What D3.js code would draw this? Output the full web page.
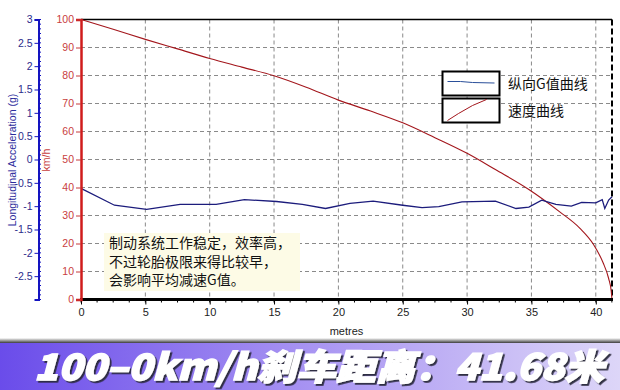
<!DOCTYPE html>
<html>
<head>
<meta charset="utf-8">
<script src="https://cdn.jsdelivr.net/npm/d3@7"></script>
<style>
  body { margin: 0; background: #fff; }
  svg { display: block; }
</style>
</head>
<body>
<svg id="chart" width="620" height="390"></svg>
<script>
// speed curve (km/h) vs distance (m)
var speedDist = [0, 2.5, 5, 7.5, 10, 12.5, 15, 17.5, 20, 22.5, 25, 27.5, 30, 32.2, 34.8, 37.2, 38.75, 39.8, 40.56, 41.0, 41.2, 41.26];
var speedKmh  = [100, 96.5, 92.9, 89.5, 86.1, 83.0, 79.9, 75.8, 71.2, 67.3, 63.1, 57.8, 52.2, 46.4, 39.3, 31.3, 25.5, 19.8, 13.2, 7.5, 3.0, 0];

// longitudinal acceleration (g) vs distance (m)
var accDist = [0, 2.6, 5.1, 7.7, 10.5, 12.7, 15.2, 17.2, 19.0, 20.9, 22.7, 25.0, 26.5, 27.8, 29.6, 32.2, 33.8, 34.8, 35.8, 36.9, 38.1, 38.9, 40.0, 40.5, 40.7, 41.0, 41.26];
var accG    = [-0.62, -0.98, -1.07, -0.96, -0.96, -0.86, -0.90, -0.96, -1.05, -0.94, -0.89, -0.98, -1.03, -1.01, -0.91, -0.89, -1.05, -1.02, -0.87, -0.96, -1.00, -0.92, -0.93, -0.86, -1.05, -0.87, -0.80];

var xTicks = [0, 5, 10, 15, 20, 25, 30, 35, 40];
var speedTicks = [0, 10, 20, 30, 40, 50, 60, 70, 80, 90, 100];
var gTicks = [3, 2.5, 2, 1.5, 1, 0.5, 0, -0.5, -1, -1.5, -2, -2.5];

var legendLabels = ['纵向G值曲线', '速度曲线'];
var noteLines = ['制动系统工作稳定，效率高，', '不过轮胎极限来得比较早，', '会影响平均减速G值。'];
var bannerText = '100–0km/h刹车距离：41.68米';

var svg = d3.select('#chart');
var plotL = 81, plotR = 612, plotT = 19.5, plotB = 299.5;

var x = d3.scaleLinear().domain([0, 41.26]).range([plotL, plotR]);
var ySpeed = d3.scaleLinear().domain([0, 100]).range([plotB, plotT]);
var yG = d3.scaleLinear().domain([-3, 3]).range([plotB, plotT]);

// grid
var grid = svg.append('g').attr('class', 'grid');
grid.selectAll('line.h')
    .data(speedTicks.filter(function(d){ return d > 0 && d < 100; }))
    .enter().append('line')
    .attr('x1', plotL).attr('x2', plotR)
    .attr('y1', function(d){ return ySpeed(d); })
    .attr('y2', function(d){ return ySpeed(d); })
    .attr('stroke', '#8a8a8a').attr('stroke-dasharray', '4,3');
grid.selectAll('line.v')
    .data(xTicks.filter(function(d){ return d > 0; }))
    .enter().append('line')
    .attr('x1', function(d){ return x(d); })
    .attr('x2', function(d){ return x(d); })
    .attr('y1', plotT).attr('y2', plotB)
    .attr('stroke', '#8a8a8a').attr('stroke-dasharray', '4,3');

// frame
svg.append('line').attr('x1', plotL).attr('x2', plotR).attr('y1', plotT).attr('y2', plotT)
    .attr('stroke', '#000').attr('stroke-width', 1.5);
svg.append('line').attr('x1', plotR).attr('x2', plotR).attr('y1', plotT).attr('y2', plotB)
    .attr('stroke', '#000').attr('stroke-width', 2).attr('stroke-dasharray', '6,3');

// note text with cream background
var note = svg.append('g');
note.append('rect').attr('x', 104).attr('y', 233).attr('width', 196).attr('height', 58)
    .attr('fill', '#fdfbe6');
note.selectAll('text').data(noteLines).enter().append('text')
    .attr('x', 109).attr('y', function(d, i){ return 248 + i * 18.7; })
    .attr('font-family', '"Noto Sans CJK SC", sans-serif')
    .attr('font-size', 14).attr('fill', '#111')
    .text(function(d){ return d; });

// curves
var speedLine = d3.line()
    .x(function(d){ return x(d[0]); })
    .y(function(d){ return ySpeed(d[1]); })
    .curve(d3.curveMonotoneX);
svg.append('path')
    .datum(d3.zip(speedDist, speedKmh))
    .attr('d', speedLine)
    .attr('fill', 'none').attr('stroke', '#a3161c').attr('stroke-width', 1.1);

var accLine = d3.line()
    .x(function(d){ return x(d[0]); })
    .y(function(d){ return yG(d[1]); });
svg.append('path')
    .datum(d3.zip(accDist, accG))
    .attr('d', accLine)
    .attr('fill', 'none').attr('stroke', '#1c1c7c').attr('stroke-width', 1.3);

// x axis
var xAxis = svg.append('g').attr('transform', 'translate(0,' + plotB + ')')
    .call(d3.axisBottom(x).tickValues(xTicks).tickSize(5).tickPadding(4).tickFormat(function(d){ return d; }));
xAxis.select('.domain').remove();
xAxis.selectAll('text').attr('font-family', '"Liberation Sans", Arial, sans-serif').attr('font-size', 11).attr('fill', '#222');
svg.append('g').selectAll('line')
    .data(d3.range(0, 41.26, 1.25))
    .enter().append('line')
    .attr('x1', function(d){ return x(d); }).attr('x2', function(d){ return x(d); })
    .attr('y1', plotB).attr('y2', plotB + 3)
    .attr('stroke', '#000');
svg.append('line').attr('x1', plotL - 1).attr('x2', plotR + 1).attr('y1', plotB).attr('y2', plotB)
    .attr('stroke', '#000').attr('stroke-width', 3);
svg.append('text').attr('x', (plotL + plotR) / 2).attr('y', 335)
    .attr('text-anchor', 'middle')
    .attr('font-family', '"Liberation Sans", Arial, sans-serif').attr('font-size', 11).attr('fill', '#222')
    .text('metres');

// speed axis (red)
var sAxis = svg.append('g').attr('transform', 'translate(' + plotL + ',0)')
    .call(d3.axisLeft(ySpeed).tickValues(speedTicks).tickSize(5).tickPadding(2).tickFormat(function(d){ return d; }));
sAxis.select('.domain').attr('stroke', '#d01c1c').attr('stroke-width', 2.5);
sAxis.selectAll('.tick line').attr('stroke', '#c83a3a');
sAxis.selectAll('text').attr('font-family', '"Liberation Sans", Arial, sans-serif').attr('font-size', 10.5).attr('fill', '#c84040');
svg.append('text')
    .attr('transform', 'translate(50,160) rotate(-90)')
    .attr('text-anchor', 'middle')
    .attr('font-family', '"Liberation Sans", Arial, sans-serif').attr('font-size', 10.5).attr('fill', '#c84040')
    .text('km/h');

// acceleration axis (blue)
var gX = 38.5;
var gAxis = svg.append('g').attr('transform', 'translate(' + gX + ',0)')
    .call(d3.axisLeft(yG).tickValues(gTicks).tickSize(4).tickPadding(2).tickFormat(function(d){ return String(d); }));
gAxis.select('.domain').attr('stroke', '#1414c0').attr('stroke-width', 2);
gAxis.selectAll('.tick line').attr('stroke', '#1414c0');
gAxis.selectAll('text').attr('font-family', '"Liberation Sans", Arial, sans-serif').attr('font-size', 10.5).attr('fill', '#2c2c8c');
svg.append('g').selectAll('line')
    .data(d3.range(-3, 3.001, 0.1))
    .enter().append('line')
    .attr('x1', gX).attr('x2', gX + 2.5)
    .attr('y1', function(d){ return yG(d); }).attr('y2', function(d){ return yG(d); })
    .attr('stroke', '#1414c0');
svg.append('text')
    .attr('transform', 'translate(16,160) rotate(-90)')
    .attr('text-anchor', 'middle')
    .attr('font-family', '"Liberation Sans", Arial, sans-serif').attr('font-size', 10.5).attr('fill', '#2c2c9c')
    .text('Longitudinal Acceleration (g)');

// legend
var legend = svg.append('g');
var boxX = 442.5, boxW = 57, boxH = 24;
var boxY = [71.5, 98.5];
legend.selectAll('rect').data(boxY).enter().append('rect')
    .attr('x', boxX).attr('y', function(d){ return d; })
    .attr('width', boxW).attr('height', boxH)
    .attr('fill', '#fff').attr('stroke', '#000').attr('stroke-width', 2);
legend.append('path')
    .attr('d', d3.line()([[boxX + 5, boxY[0] + 10], [boxX + 18, boxY[0] + 10], [boxX + 30, boxY[0] + 11], [boxX + 52, boxY[0] + 11.5]]))
    .attr('fill', 'none').attr('stroke', '#2a4f9a').attr('stroke-width', 1);
legend.append('path')
    .attr('d', d3.line()([[boxX + 5, boxY[1] + 22], [boxX + 16, boxY[1] + 15], [boxX + 30, boxY[1] + 7], [boxX + 44, boxY[1] + 1]]))
    .attr('fill', 'none').attr('stroke', '#a3161c').attr('stroke-width', 1);
legend.selectAll('text').data(legendLabels).enter().append('text')
    .attr('x', 508).attr('y', function(d, i){ return boxY[i] + 17; })
    .attr('font-family', '"Noto Sans CJK SC", sans-serif')
    .attr('font-size', 14).attr('fill', '#111')
    .text(function(d){ return d; });

// banner
var defs = svg.append('defs');
var bg = defs.append('linearGradient').attr('id', 'bannerGrad').attr('x1', '0').attr('x2', '1').attr('y1', '0').attr('y2', '0');
bg.append('stop').attr('offset', '0').attr('stop-color', '#6a4cea');
bg.append('stop').attr('offset', '0.5').attr('stop-color', '#a894f2');
bg.append('stop').attr('offset', '1').attr('stop-color', '#ddd6f8');
var sg = defs.append('linearGradient').attr('id', 'shadowGrad').attr('x1', '0').attr('x2', '0').attr('y1', '0').attr('y2', '1');
sg.append('stop').attr('offset', '0').attr('stop-color', '#ffffff');
sg.append('stop').attr('offset', '1').attr('stop-color', '#3c3c3c');
var shadow = defs.append('filter').attr('id', 'textShadow')
    .attr('x', '-5%').attr('y', '-20%').attr('width', '110%').attr('height', '150%');
shadow.append('feDropShadow').attr('dx', 1.8).attr('dy', 1.8).attr('stdDeviation', 0.6)
    .attr('flood-color', '#26263a').attr('flood-opacity', 0.95);

svg.append('rect').attr('x', 0).attr('y', 338).attr('width', 620).attr('height', 5).attr('fill', 'url(#shadowGrad)');
svg.append('rect').attr('x', 0).attr('y', 343).attr('width', 620).attr('height', 47).attr('fill', 'url(#bannerGrad)');

svg.append('text').attr('x', 34).attr('y', 379.5)
    .attr('font-family', '"Noto Sans CJK SC", sans-serif')
    .attr('font-weight', 900).attr('font-style', 'italic').attr('font-size', 36)
    .attr('textLength', 570).attr('lengthAdjust', 'spacingAndGlyphs')
    .attr('fill', '#fff').attr('stroke', '#fff').attr('stroke-width', 1.4)
    .attr('filter', 'url(#textShadow)')
    .text(bannerText);
</script>
</body>
</html>
